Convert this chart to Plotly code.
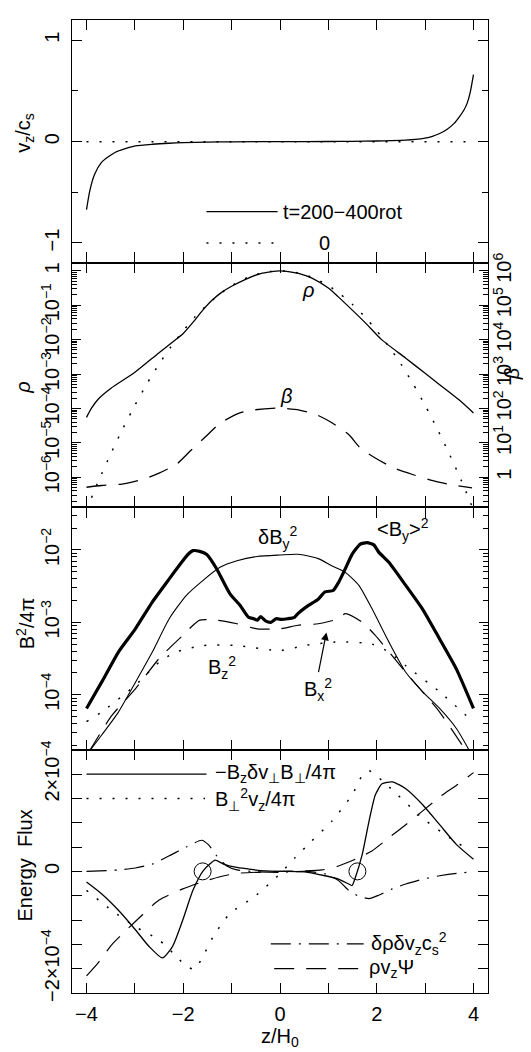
import numpy as np
import plotly.graph_objects as go

# ---------------- Panel 1 : v_z / c_s ----------------
vz_z = [-4.0, -3.93, -3.83, -3.69, -3.55, -3.41, -3.2, -2.99, -2.64, -2.3, -2.0, -1.5, -1.0, 0.0,
        1.0, 1.5, 2.0, 2.3, 2.6, 2.8, 3.0, 3.15, 3.3, 3.45, 3.6, 3.7, 3.8, 3.87, 3.93, 4.0]
vz_val = [-0.67, -0.48, -0.32, -0.205, -0.15, -0.107, -0.07, -0.042, -0.026, -0.016, -0.01, -0.004, -0.002, 0.0,
          0.001, 0.003, 0.006, 0.01, 0.015, 0.022, 0.035, 0.052, 0.08, 0.12, 0.18, 0.24, 0.31, 0.38, 0.48, 0.66]
vz0_z = [-4.0, 4.0]
vz0_val = [0.0, 0.0]

# ---------------- Panel 2 : rho (left, log10) and beta (right, log10) ----------------
rho_z = [-4.0, -3.9, -3.75, -3.5, -3.0, -2.5, -2.2, -2.0, -1.8, -1.6, -1.4, -1.2, -1.0, -0.7, -0.4, 0.0,
         0.4, 0.66, 1.0, 1.2, 1.5, 1.77, 2.1, 2.6, 3.0, 3.3, 3.7, 4.0]
rho_log = [-4.26, -4.0, -3.72, -3.42, -2.95, -2.38, -2.05, -1.82, -1.5, -1.15, -0.85, -0.62, -0.45, -0.24, -0.08, 0.0,
           -0.08, -0.21, -0.5, -0.75, -1.15, -1.52, -2.0, -2.54, -2.98, -3.31, -3.75, -4.13]
rho0_z = [-4.0, -3.75, -3.5, -3.25, -3.0, -2.75, -2.5, -2.25, -2.0, -1.75, -1.5, -1.25, -1.0, -0.75, -0.5, -0.25, 0.0,
          0.25, 0.5, 0.75, 1.0, 1.25, 1.5, 1.75, 2.0, 2.25, 2.5, 2.75, 3.0, 3.25, 3.5, 3.75, 4.0]
rho0_log = [-6.95, -6.1, -5.32, -4.59, -3.91, -3.28, -2.71, -2.2, -1.74, -1.33, -0.98, -0.68, -0.43, -0.24, -0.11, -0.03, 0.0,
            -0.03, -0.11, -0.24, -0.43, -0.68, -0.98, -1.33, -1.74, -2.2, -2.71, -3.28, -3.91, -4.59, -5.32, -6.1, -6.95]
beta_z = [-4.0, -3.69, -3.27, -2.85, -2.5, -2.13, -1.85, -1.53, -1.25, -0.83, -0.52, -0.04,
          0.4, 0.75, 1.03, 1.42, 1.66, 1.97, 2.32, 2.74, 3.16, 3.51, 3.97]
beta_log = [-0.29, -0.24, -0.2, -0.07, 0.12, 0.39, 0.77, 1.19, 1.56, 1.87, 1.96, 2.01,
            1.95, 1.82, 1.62, 1.24, 0.85, 0.56, 0.29, 0.08, -0.1, -0.21, -0.31]

# ---------------- Panel 3 : B^2/4pi (log10) ----------------
bymean_z = [-4.0, -3.69, -3.34, -2.99, -2.64, -2.29, -2.01, -1.9, -1.8, -1.66, -1.52, -1.31, -1.17, -1.03, -0.82,
            -0.65, -0.54, -0.47, -0.4, -0.3, -0.19, -0.08, 0.03, 0.16, 0.3, 0.37, 0.58, 0.79, 0.93, 1.1, 1.21,
            1.35, 1.49, 1.66, 1.8, 1.94, 2.04, 2.25, 2.6, 2.95, 3.3, 3.65, 4.0]
bymean_log = [-4.19, -3.83, -3.41, -3.09, -2.72, -2.4, -2.15, -2.06, -2.01, -2.02, -2.06, -2.26, -2.44, -2.61, -2.77,
              -2.93, -2.95, -2.97, -2.92, -2.98, -3.0, -2.95, -2.96, -2.95, -2.93, -2.88, -2.77, -2.68, -2.58, -2.56, -2.45,
              -2.26, -2.06, -1.92, -1.9, -1.93, -2.03, -2.17, -2.49, -2.82, -3.23, -3.65, -4.19]
dby_z = [-3.95, -3.69, -3.34, -2.99, -2.64, -2.29, -1.94, -1.59, -1.24, -0.89, -0.47, 0.0, 0.37, 0.79, 1.07, 1.35,
         1.63, 1.9, 2.25, 2.6, 2.95, 3.3, 3.65, 3.93]
dby_log = [-4.79, -4.56, -4.24, -3.83, -3.41, -2.95, -2.63, -2.42, -2.24, -2.15, -2.09, -2.07, -2.06, -2.12, -2.22, -2.31,
           -2.49, -2.81, -3.27, -3.69, -3.96, -4.19, -4.47, -4.79]
bx_z = [-3.95, -3.48, -2.99, -2.5, -2.01, -1.66, -1.31, -0.89, -0.47, 0.0, 0.37, 0.79, 1.21, 1.35, 1.7, 1.97, 2.6, 3.3, 3.86]
bx_log = [-4.79, -4.29, -3.92, -3.5, -3.18, -2.97, -2.97, -3.02, -3.09, -3.09, -3.04, -3.02, -2.95, -2.88, -3.0, -3.18,
          -3.69, -4.24, -4.79]
bz_z = [-4.0, -3.69, -2.99, -2.5, -2.15, -1.59, -0.89, 0.0, 0.51, 1.21, 1.9, 2.25, 2.6, 3.3, 4.0]
bz_log = [-4.37, -4.24, -3.87, -3.55, -3.41, -3.32, -3.32, -3.39, -3.32, -3.27, -3.3, -3.41, -3.6, -3.96, -4.38]

# ---------------- Panel 4 : Energy flux (units of 1e-4) ----------------
poy_z = [-4.0, -3.69, -3.34, -2.99, -2.71, -2.43, -2.22, -2.01, -1.8, -1.59, -1.45, -1.34, -1.17, -0.89, -0.6, -0.3,
         0.0, 0.51, 0.93, 1.21, 1.42, 1.49, 1.56, 1.7, 1.84, 1.97, 2.11, 2.32, 2.6, 2.95, 3.3, 3.65, 4.0]
poy_val = [-0.22, -0.46, -0.8, -1.2, -1.54, -1.78, -1.54, -1.0, -0.39, 0.01, 0.15, 0.23, 0.15, 0.08, 0.04, 0.01,
           0.0, -0.01, -0.09, -0.16, -0.26, -0.29, -0.12, 0.35, 1.03, 1.57, 1.8, 1.84, 1.7, 1.37, 0.96, 0.55, 0.25]
adv_z = [-4.0, -3.48, -2.99, -2.5, -2.15, -1.94, -1.76, -1.59, -1.38, -1.03, -0.54, 0.0, 0.31, 0.65, 1.07, 1.49, 1.7,
         1.84, 2.25, 2.95, 3.51, 3.93]
adv_val = [-0.39, -0.8, -1.14, -1.41, -1.74, -1.95, -2.01, -1.74, -1.34, -0.86, -0.53, -0.05, 0.28, 0.62, 1.03, 1.57,
           1.97, 2.07, 1.74, 1.09, 0.69, 0.42]
pres_z = [-4.0, -3.34, -2.99, -2.64, -2.29, -1.94, -1.62, -1.48, -1.31, -1.1, -0.89, -0.47, 0.0, 0.51, 0.93, 1.21,
          1.42, 1.63, 1.84, 2.04, 2.32, 2.6, 2.95, 3.3, 3.65, 4.0]
pres_val = [0.0, 0.03, 0.07, 0.15, 0.32, 0.5, 0.64, 0.55, 0.32, 0.11, 0.03, -0.01, -0.02, 0.0, -0.05, -0.19,
            -0.39, -0.51, -0.56, -0.49, -0.36, -0.26, -0.16, -0.09, -0.04, -0.01]
grav_z = [-4.0, -3.76, -3.48, -2.99, -2.5, -2.01, -1.52, -1.24, -0.89, 0.0, 0.87, 1.21, 1.56, 1.9, 2.25, 2.6, 3.02,
          3.3, 3.65, 4.0]
grav_val = [-2.15, -1.88, -1.51, -1.03, -0.59, -0.36, -0.19, -0.11, -0.04, 0.0, 0.03, 0.11, 0.25, 0.42, 0.69, 0.96,
            1.3, 1.53, 1.77, 2.03]
circ_z = [-1.6, 1.6]
circ_val = [0.0, 0.0]

FONT = "Liberation Sans, Arial, sans-serif"
BLK = "black"
DOT = "2px,11px"
DASH = "20px,12px"
DASHDOT = "20px,8px,2px,8px"

fig = go.Figure()


def line(x, y, xa, ya, width=1.2, dash="solid", smooth=0.6):
    fig.add_trace(go.Scatter(x=x, y=y, xaxis=xa, yaxis=ya, mode="lines",
                             line=dict(color=BLK, width=width, dash=dash, shape="spline", smoothing=smooth),
                             showlegend=False, hoverinfo="skip"))


# panel 1
line(vz0_z, vz0_val, "x", "y", 1.5, DOT)
line(vz_z, vz_val, "x", "y", 1.3)
# panel 2
line(rho0_z, 10 ** np.array(rho0_log), "x2", "y2", 1.5, DOT)
line(rho_z, 10 ** np.array(rho_log), "x2", "y2", 1.3)
line(beta_z, 10 ** np.array(beta_log), "x2", "y5", 1.3, DASH)
# panel 3
line(bz_z, 10 ** np.array(bz_log), "x3", "y3", 1.5, DOT)
line(bx_z, 10 ** np.array(bx_log), "x3", "y3", 1.2, DASH)
line(dby_z, 10 ** np.array(dby_log), "x3", "y3", 1.1)
line(bymean_z, 10 ** np.array(bymean_log), "x3", "y3", 3.2, smooth=0.5)
# panel 4
line(adv_z, np.array(adv_val) * 1e-4, "x4", "y4", 1.5, DOT)
line(pres_z, np.array(pres_val) * 1e-4, "x4", "y4", 1.2, DASHDOT)
line(grav_z, np.array(grav_val) * 1e-4, "x4", "y4", 1.2, DASH)
line(poy_z, np.array(poy_val) * 1e-4, "x4", "y4", 1.3)
fig.add_trace(go.Scatter(x=circ_z, y=np.array(circ_val) * 1e-4, xaxis="x4", yaxis="y4", mode="markers",
                         marker=dict(symbol="circle-open", size=17, color=BLK, line=dict(width=1, color=BLK)),
                         showlegend=False, hoverinfo="skip"))

# ---------------- axes ----------------
xticks = [-4, -3, -2, -1, 0, 1, 2, 3, 4]
xtext = ["\u22124", "", "\u22122", "", "0", "", "2", "", "4"]
common_x = dict(range=[-4.3, 4.3], showgrid=False, zeroline=False, showline=True, linecolor=BLK, linewidth=1.2,
                mirror="allticks", ticks="inside", ticklen=10, tickwidth=1.2, tickcolor=BLK,
                tickmode="array", tickvals=xticks, ticktext=xtext, ticklabelstandoff=3,
                tickfont=dict(family=FONT, size=20, color=BLK))
common_y = dict(showgrid=False, zeroline=False, showline=True, linecolor=BLK, linewidth=1.2,
                mirror="allticks", ticks="inside", ticklen=10, tickwidth=1.2, tickcolor=BLK, ticklabelstandoff=4,
                tickangle=-90, tickfont=dict(family=FONT, size=20, color=BLK), tickmode="array")

doms = [[0.75, 1.0], [0.5, 0.75], [0.25, 0.5], [0.0, 0.25]]
layout = dict(width=515, height=1044, autosize=False, plot_bgcolor="white", paper_bgcolor="white",
              margin=dict(l=64, r=35, t=1, b=59), showlegend=False)
for i in range(4):
    key = "xaxis" if i == 0 else "xaxis%d" % (i + 1)
    d = dict(common_x)
    d["anchor"] = "y" if i == 0 else "y%d" % (i + 1)
    d["domain"] = [0, 1]
    d["showticklabels"] = (i == 3)
    layout[key] = d


def minor_log(lo, hi):
    return [k * 10.0 ** n for n in range(lo, hi) for k in range(2, 10)]


y1 = dict(common_y, domain=doms[0], anchor="x", range=[-1.2, 1.2], tickvals=[-1, 0, 1],
          ticktext=["\u22121", "0", "1"],
          minor=dict(tickvals=[-0.5, 0.5], ticks="inside", ticklen=6, tickcolor=BLK))
sup = lambda n: "10<sup>\u2212%d</sup>" % n
y2 = dict(common_y, domain=doms[1], anchor="x2", type="log", range=[-6.85, 0.22],
          tickvals=[10.0 ** -k for k in range(6, -1, -1)],
          ticktext=[sup(k) for k in range(6, 0, -1)] + ["1"], ticklen=9,
          minor=dict(tickvals=minor_log(-7, 1), ticks="inside", ticklen=5, tickcolor=BLK))
y5 = dict(domain=doms[1], anchor="x2", overlaying="y2", side="right", type="log", range=[-0.85, 6.22],
          showgrid=False, zeroline=False, showline=False, ticks="", tickangle=-90, tickmode="array",
          tickvals=[10.0 ** k for k in range(0, 7)], ticklabelstandoff=2,
          ticktext=["1"] + ["10<sup>%d</sup>" % k for k in range(1, 7)],
          tickfont=dict(family=FONT, size=20, color=BLK))
y3 = dict(common_y, domain=doms[2], anchor="x3", type="log", range=[-4.76, -1.4],
          tickvals=[1e-4, 1e-3, 1e-2], ticktext=[sup(4), sup(3), sup(2)], ticklen=9,
          minor=dict(tickvals=minor_log(-5, -1), ticks="inside", ticklen=5, tickcolor=BLK))
y4 = dict(common_y, domain=doms[3], anchor="x4", range=[-2.5e-4, 2.5e-4], tickvals=[-2e-4, 0, 2e-4],
          ticktext=["\u22122\u00d710<sup>\u22124</sup>", "0", "2\u00d710<sup>\u22124</sup>"],
          minor=dict(tickvals=[-1.5e-4, -1e-4, -0.5e-4, 0.5e-4, 1e-4, 1.5e-4], ticks="inside", ticklen=10,
                     tickcolor=BLK))
layout.update(yaxis=y1, yaxis2=y2, yaxis3=y3, yaxis4=y4, yaxis5=y5)
fig.update_layout(**layout)

# ---------------- annotations / text ----------------
F = dict(family=FONT, size=20, color=BLK)
ann = []


def txt(text, x, y, xref="paper", yref="paper", xanchor="center", yanchor="middle", angle=0, xshift=0, yshift=0,
        size=20):
    ann.append(dict(text=text, x=x, y=y, xref=xref, yref=yref, xanchor=xanchor, yanchor=yanchor, textangle=angle,
                    xshift=xshift, yshift=yshift, showarrow=False, font=dict(F, size=size)))


# axis titles
txt("v<sub>z</sub>/c<sub>s</sub>", 0, 0.884, angle=-90, xshift=-47)
txt("<i>\u03c1</i>", 0, 0.622, angle=-90, xshift=-49)
txt("B<sup>2</sup>/4\u03c0", 0, 0.380, angle=-90, xshift=-47)
txt("Energy  Flux", 0, 0.131, angle=-90, xshift=-47)
txt("<i>\u03b2</i>", 1, 0.636, angle=-90, xshift=24)
txt("z/H<sub>0</sub>", 0.5, 0, yshift=-44)

# panel 1 legend
txt("t=200\u2212400rot", 0.02, -0.69, "x", "y", xanchor="left")
txt("0", 0.91, -1.0, "x", "y")
# panel 2 labels (log axis -> log10 coords)
txt("<i>\u03c1</i>", 0.58, -0.55, "x2", "y2")
txt("<i>\u03b2</i>", 0.12, -3.65, "x2", "y2")
# panel 3 labels
txt("\u03b4B<sub>y</sub><sup>2</sup>", -0.05, -1.83, "x3", "y3")
txt("&lt;B<sub>y</sub>&gt;<sup>2</sup>", 2.55, -1.72, "x3", "y3")
txt("B<sub>z</sub><sup>2</sup>", -1.2, -3.62, "x3", "y3")
txt("B<sub>x</sub><sup>2</sup>", 0.79, -3.93, "x3", "y3")
ann.append(dict(x=0.96, y=-3.14, ax=0.79, ay=-3.71, xref="x3", yref="y3", axref="x3", ayref="y3", text="",
                showarrow=True, arrowhead=2, arrowsize=1.3, arrowwidth=1.2, arrowcolor=BLK))
# panel 4 legend texts
txt("\u2212B<sub>z</sub>\u03b4v<sub>\u22a5</sub>B<sub>\u22a5</sub>/4\u03c0", -1.38, 2.02e-4, "x4", "y4", xanchor="left")
txt("B<sub>\u22a5</sub><sup>2</sup>v<sub>z</sub>/4\u03c0", -1.38, 1.48e-4, "x4", "y4", xanchor="left")
txt("\u03b4\u03c1\u03b4v<sub>z</sub>c<sub>s</sub><sup>2</sup>", 1.83, -1.49e-4, "x4", "y4", xanchor="left")
txt("\u03c1v<sub>z</sub>\u03a8", 1.8, -2.0e-4, "x4", "y4", xanchor="left")
fig.update_layout(annotations=ann)

# legend key lines
shapes = [
    dict(type="line", xref="x", yref="y", x0=-1.52, x1=-0.05, y0=-0.69, y1=-0.69, line=dict(color=BLK, width=1.3)),
    dict(type="line", xref="x", yref="y", x0=-1.52, x1=-0.05, y0=-1.0, y1=-1.0, line=dict(color=BLK, width=1.5, dash=DOT)),
    dict(type="line", xref="x4", yref="y4", x0=-4.0, x1=-1.52, y0=2.0e-4, y1=2.0e-4, line=dict(color=BLK, width=1.3)),
    dict(type="line", xref="x4", yref="y4", x0=-4.0, x1=-1.55, y0=1.5e-4, y1=1.5e-4, line=dict(color=BLK, width=1.5, dash=DOT)),
    dict(type="line", xref="x4", yref="y4", x0=-0.19, x1=1.73, y0=-1.49e-4, y1=-1.49e-4, line=dict(color=BLK, width=1.2, dash=DASHDOT)),
    dict(type="line", xref="x4", yref="y4", x0=-0.12, x1=1.73, y0=-2.0e-4, y1=-2.0e-4, line=dict(color=BLK, width=1.2, dash=DASH)),
]
fig.update_layout(shapes=shapes)

fig.write_html("out.html")
